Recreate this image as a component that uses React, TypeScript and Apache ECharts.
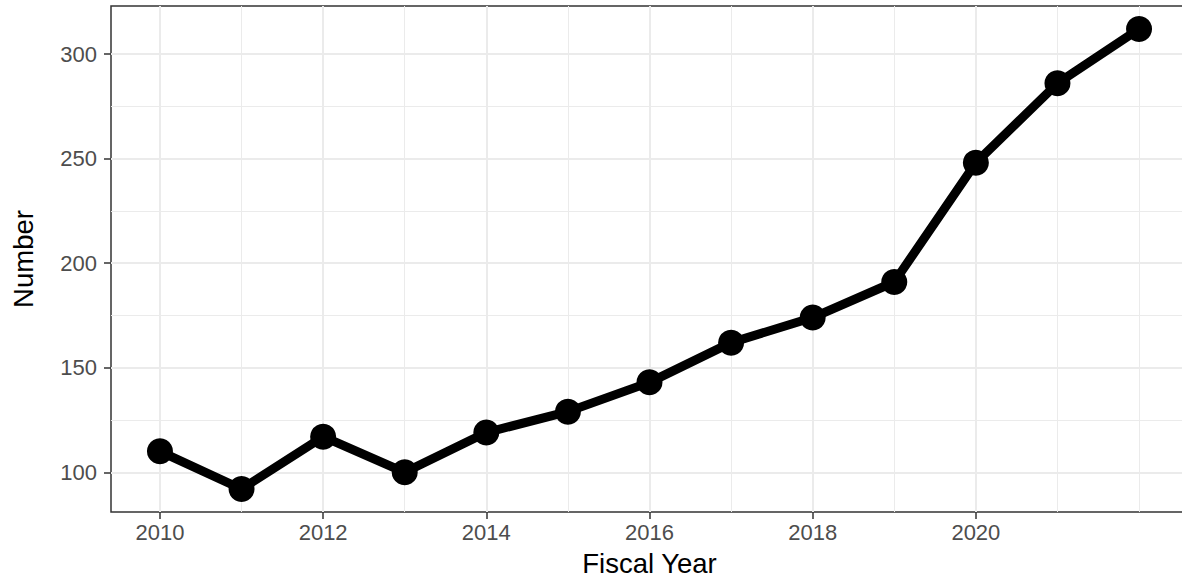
import React, { useEffect, useRef } from "react";
import * as echarts from "echarts";

const years = [2010, 2011, 2012, 2013, 2014, 2015, 2016, 2017, 2018, 2019, 2020, 2021, 2022];
const values = [110, 92, 117, 100, 119, 129, 143, 162, 174, 191, 248, 286, 312];
const xMajorTicks = [2010, 2012, 2014, 2016, 2018, 2020];
const xMinorTicks = [2011, 2013, 2015, 2017, 2019, 2021, 2022];
const yMajorTicks = [100, 150, 200, 250, 300];
const yMinorTicks = [125, 175, 225, 275];
const xTitle = "Fiscal Year";
const yTitle = "Number";

const FONT = "'Liberation Sans', Arial, Helvetica, sans-serif";
const GRID_COLOR = "#EBEBEB";
const DARK = "#333333";
const LABEL = "#4D4D4D";

export default function App() {
  const ref = useRef<HTMLDivElement>(null);
  useEffect(() => {
    if (!ref.current) return;
    const chart = echarts.init(ref.current, undefined, { renderer: "svg" });
    const xMin = 2009.4;
    const xMax = 2022.6;
    const yMin = 81;
    const yMax = 323;
    chart.setOption({
      animation: false,
      backgroundColor: "#FFFFFF",
      textStyle: { fontFamily: FONT },
      grid: {
        left: 111,
        top: 6,
        width: 1077,
        height: 506,
        show: true,
        backgroundColor: "#FFFFFF",
        borderColor: DARK,
        borderWidth: 1.5,
        containLabel: false,
      },
      xAxis: [
        {
          type: "value",
          min: xMin,
          max: xMax,
          name: xTitle,
          nameLocation: "middle",
          nameGap: 37,
          nameTextStyle: { fontSize: 27.5, color: "#000000", fontFamily: FONT },
          axisLine: { show: false },
          axisTick: {
            show: true,
            customValues: xMajorTicks,
            length: 7,
            lineStyle: { color: DARK, width: 1.5 },
          },
          axisLabel: {
            show: true,
            customValues: xMajorTicks,
            fontSize: 22,
            color: LABEL,
            margin: 9,
            fontFamily: FONT,
            formatter: (v: number) => String(Math.round(v)),
          },
          splitLine: { show: true, lineStyle: { color: GRID_COLOR, width: 2 } },
          z: 1,
        },
        {
          type: "value",
          min: xMin,
          max: xMax,
          position: "bottom",
          axisLine: { show: false },
          axisTick: { show: false, customValues: xMinorTicks },
          axisLabel: { show: false, customValues: xMinorTicks },
          splitLine: { show: true, lineStyle: { color: GRID_COLOR, width: 1 } },
          z: 0,
        },
      ],
      yAxis: [
        {
          type: "value",
          min: yMin,
          max: yMax,
          name: yTitle,
          nameLocation: "middle",
          nameGap: 74,
          nameRotate: 90,
          nameTextStyle: { fontSize: 27.5, color: "#000000", fontFamily: FONT },
          axisLine: { show: false },
          axisTick: {
            show: true,
            customValues: yMajorTicks,
            length: 7,
            lineStyle: { color: DARK, width: 1.5 },
          },
          axisLabel: {
            show: true,
            customValues: yMajorTicks,
            fontSize: 22,
            color: LABEL,
            margin: 14,
            fontFamily: FONT,
          },
          splitLine: { show: true, lineStyle: { color: GRID_COLOR, width: 2 } },
          z: 1,
        },
        {
          type: "value",
          min: yMin,
          max: yMax,
          position: "left",
          axisLine: { show: false },
          axisTick: { show: false, customValues: yMinorTicks },
          axisLabel: { show: false, customValues: yMinorTicks },
          splitLine: { show: true, lineStyle: { color: GRID_COLOR, width: 1 } },
          z: 0,
        },
      ],
      series: [
        {
          type: "line",
          xAxisIndex: 0,
          yAxisIndex: 0,
          data: years.map((y, i) => [y, values[i]]),
          lineStyle: { color: "#000000", width: 9, cap: "round", join: "round" },
          itemStyle: { color: "#000000", borderWidth: 0 },
          symbol: "circle",
          symbolSize: 26,
          showSymbol: true,
          emphasis: { disabled: true },
          z: 3,
        },
      ],
    });
    return () => chart.dispose();
  }, []);

  return (
    <div
      style={{
        position: "fixed",
        left: 0,
        top: 0,
        width: 1182,
        height: 583,
        overflow: "hidden",
        background: "#FFFFFF",
      }}
    >
      <div ref={ref} style={{ width: 1190, height: 583 }} />
    </div>
  );
}
